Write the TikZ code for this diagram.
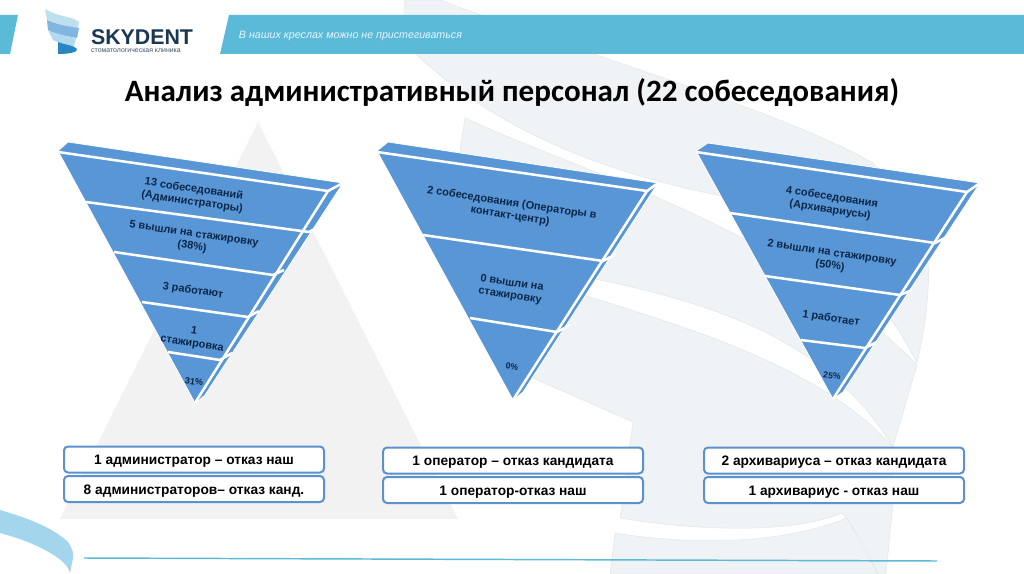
\documentclass[tikz,border=0pt]{standalone}
\usepackage{fontspec}
\setmainfont{Liberation Sans}
\newfontfamily\titlefont{Carlito}
\usepackage{xcolor}

\tikzset{
  barfill/.style={draw opacity=0,fill={rgb, 255:red, 91; green, 186; blue, 216 }},
  bandfill/.style={draw={rgb, 255:red, 224; green, 227; blue, 230 },line width=0.3pt,fill={rgb, 255:red, 240; green, 243; blue, 245 }},
  pyrbody/.style={draw=white,line width=0.6pt,fill={rgb, 255:red, 88; green, 150; blue, 214 }},
  pyrline/.style={draw=white,line width=1.9pt},
  pyrtext/.style={yshift=-2pt,rotate=-8.5,align=center,inner sep=0pt,font=\bfseries\fontsize{8.2}{9.6}\selectfont,text={rgb, 255:red, 12; green, 38; blue, 72 }},
  resultbox/.style={draw={rgb, 255:red, 91; green, 145; blue, 205 },line width=1.5pt,fill=white,rounded corners=3pt,minimum width=195pt,minimum height=19.5pt,inner sep=0pt,text height=8pt,text depth=0pt,font=\bfseries\fontsize{10.3}{12}\selectfont,text=black}
}

\begin{document}
\begin{tikzpicture}[x=0.75pt,y=0.75pt,yscale=-1]
\useasboundingbox (0,0) rectangle (1024,574);

%Shape: Triangle
\fill [color={rgb, 255:red, 242; green, 242; blue, 242 }] (258,122) -- (458,519) -- (60,519) -- cycle ;

%Shape: Band
\draw [bandfill] (404,0) -- (404,15) -- (417,55) .. controls (470,105) and (560,165) .. (727,197) .. controls (810,215) and (880,290) .. (917,363) .. controls (925,330) and (930,290) .. (928,263) .. controls (915,225) and (895,190) .. (873,163) .. controls (780,110) and (600,60) .. (440,0) -- cycle ;
%Shape: Band
\draw [bandfill] (465,118) .. controls (600,180) and (780,225) .. (917,365) -- (893,447) .. controls (830,345) and (730,305) .. (575,275) -- (460,150) -- cycle ;
%Shape: Band
\draw [bandfill] (570,291) .. controls (680,325) and (820,365) .. (893,447) -- (893,503) -- (886,574) -- (878,574) .. controls (865,545) and (855,530) .. (842,513) .. controls (790,535) and (690,530) .. (620,518) -- (633,422) -- (515,370) -- (560,320) -- cycle ;
%Shape: Band
\draw [bandfill] (615,533) .. controls (690,545) and (780,545) .. (847,518) -- (878,574) -- (610,574) -- cycle ;

%Shape: Rectangle
\fill [barfill] (0,15) -- (18,15) -- (10,54) -- (0,54) -- cycle ;
%Shape: Rectangle
\fill [barfill] (229,15) -- (1024,15) -- (1024,54) -- (220,54) -- cycle ;

%Logo
\fill [color={rgb, 255:red, 190; green, 224; blue, 238 }] (45,9) .. controls (58,17) and (72,16) .. (79,22) -- (78,28) .. controls (65,26) and (55,24) .. (47,20) -- cycle ;
\fill [color={rgb, 255:red, 130; green, 182; blue, 224 }] (47,20) .. controls (55,24) and (65,26) .. (79,28) -- (77,38) .. controls (65,36) and (55,34) .. (48,30) -- cycle ;
\fill [color={rgb, 255:red, 178; green, 218; blue, 238 }] (48,30) .. controls (55,34) and (65,36) .. (76,38) -- (74,46) .. controls (65,45) and (58,43) .. (53,40) -- cycle ;
\fill [color={rgb, 255:red, 40; green, 135; blue, 195 }] (58,42) .. controls (65,45) and (74,45) .. (77,49) .. controls (78,52) and (70,54) .. (58,54) -- cycle ;

%Ribbon
\fill [color={rgb, 255:red, 163; green, 213; blue, 236 }] (0,510) .. controls (20,516) and (50,525) .. (68,542) .. controls (72,548) and (74,553) .. (73,558) -- (70,573) .. controls (68,565) and (60,558) .. (45,550) .. controls (30,542) and (15,537) .. (0,533) -- cycle ;

%Straight Lines
\draw [color={rgb, 255:red, 91; green, 186; blue, 216 },line width=1.1pt] (84,558) -- (937,561) ;

% Text Node
\node (brand) at (142,37) [inner sep=0pt,font=\bfseries\fontsize{16}{18}\selectfont,text={rgb, 255:red, 26; green, 56; blue, 82 }] {SKYDENT};
% Text Node
\node (brandsub) at (136,50.5) [inner sep=0pt,font=\fontsize{5.2}{6}\selectfont,text={rgb, 255:red, 60; green, 85; blue, 105 }] {стоматологическая клиника};
% Text Node
\node (slogan) at (350.5,35.5) [inner sep=0pt,font=\itshape\fontsize{8}{10}\selectfont,text={rgb, 255:red, 232; green, 246; blue, 251 }] {В наших креслах можно не пристегиваться};
% Text Node
\node (title) at (512,92.5) [inner sep=0pt,font=\titlefont\bfseries\fontsize{23.3}{26}\selectfont,text=black] {Анализ административный персонал (22 собеседования)};

%Shape: Pyramid
\draw [pyrbody] (58,151) -- (68,142) -- (343,183) -- (205,395) -- (197,402) -- (195,403) -- cycle ;
\draw [pyrline] (58,152) -- (328,191) -- (195,403) ;
\draw [pyrline] (343,183) -- (328,191) ;
\draw [pyrline] (86,202) -- (309,232) -- (320,226) ;
\draw [pyrline] (114,252) -- (273,275) -- (284,270) ;
\draw [pyrline] (142,302) -- (248,317) -- (259,311) ;
\draw [pyrline] (168,352) -- (220,360) -- (232,353) ;
% Text Node
\node (admA) at (193,193) [pyrtext] {13 собеседований\\(Администраторы)};
\node (admB) at (193,238) [pyrtext] {5 вышли на стажировку\\(38\%)};
\node (admC) at (193,288) [pyrtext] {3 работают};
\node (admD) at (193,335) [pyrtext] {1\\стажировка};
\node (admE) at (194,379) [pyrtext,font=\bfseries\fontsize{6.8}{8}\selectfont] {31\%};

%Shape: Pyramid
\draw [pyrbody] (377,151) -- (388,142) -- (658,183) -- (523,392) -- (516,398) -- (513,400) -- cycle ;
\draw [pyrline] (377,152) -- (647,191) -- (513,400) ;
\draw [pyrline] (658,183) -- (647,191) ;
\draw [pyrline] (423,235) -- (603,261) -- (616,254) ;
\draw [pyrline] (470,318) -- (557,332) -- (570,325) ;
% Text Node
\node (opA) at (511,207) [pyrtext] {2 собеседования (Операторы в\\контакт-центр)};
\node (opB) at (511,287) [pyrtext] {0 вышли на\\стажировку};
\node (opC) at (512,364) [pyrtext,font=\bfseries\fontsize{6.5}{8}\selectfont] {0\%};

%Shape: Pyramid
\draw [pyrbody] (696,151) -- (708,143) -- (980,183) -- (843,392) -- (836,397) -- (833,399) -- cycle ;
\draw [pyrline] (696,152) -- (967,192) -- (833,399) ;
\draw [pyrline] (980,183) -- (967,192) ;
\draw [pyrline] (730,213) -- (935,243) -- (947,237) ;
\draw [pyrline] (765,276) -- (900,295) -- (912,290) ;
\draw [pyrline] (801,340) -- (865,348) -- (877,342) ;
% Text Node
\node (arcA) at (831,201) [pyrtext] {4 собеседования\\(Архивариусы)};
\node (arcB) at (831,257) [pyrtext] {2 вышли на стажировку\\(50\%)};
\node (arcC) at (831,316) [pyrtext] {1 работает};
\node (arcD) at (832,373) [pyrtext,font=\bfseries\fontsize{6.5}{8}\selectfont] {25\%};

% Text Node
\node (refA) at (194,459.5) [resultbox] {1 администратор – отказ наш};
\node (refB) at (194,489) [resultbox] {8 администраторов– отказ канд.};
\node (refC) at (513,460.5) [resultbox] {1 оператор – отказ кандидата};
\node (refD) at (513,490) [resultbox] {1 оператор-отказ наш};
\node (refE) at (834,460.5) [resultbox] {2 архивариуса – отказ кандидата};
\node (refF) at (834,490) [resultbox] {1 архивариус - отказ наш};

\end{tikzpicture}
\end{document}
